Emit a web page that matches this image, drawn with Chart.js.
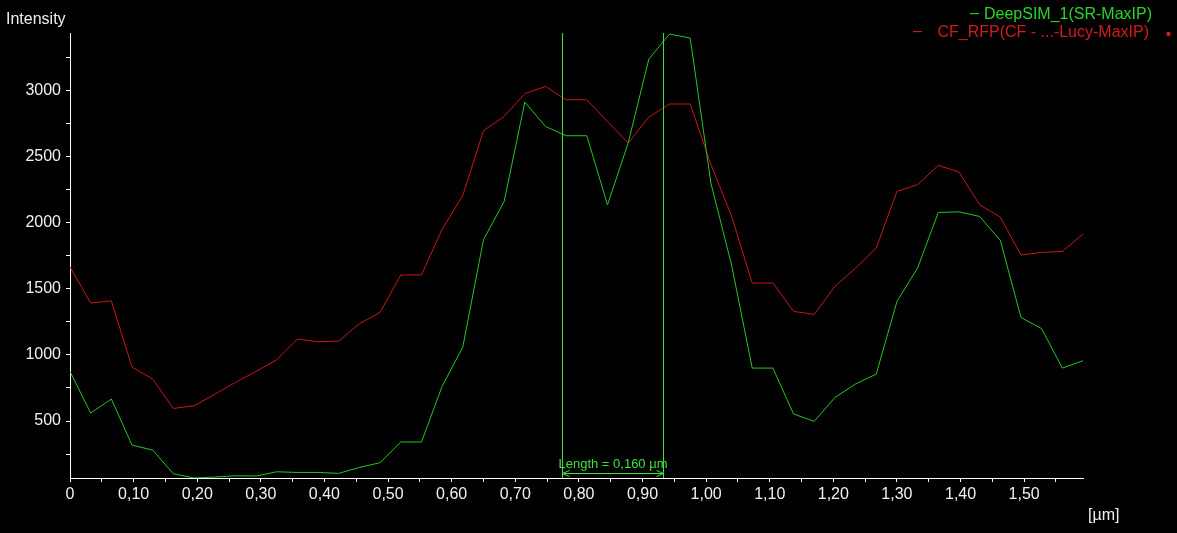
<!DOCTYPE html>
<html>
<head>
<meta charset="utf-8">
<script src="https://cdn.jsdelivr.net/npm/chart.js@4"></script>
<style>
  body { margin: 0; background: #000; }
  #wrap { width: 1177px; height: 533px; }
</style>
</head>
<body>
<div id="wrap"><canvas id="chartProfile" width="1177" height="533"></canvas></div>
<script>
// positions along the profile line (µm)
const positions = [0, 0.0325, 0.065, 0.0975, 0.13, 0.1625, 0.195, 0.2275, 0.26, 0.2925,
    0.325, 0.3575, 0.39, 0.4225, 0.455, 0.4875, 0.52, 0.5525, 0.585, 0.6175,
    0.65, 0.6825, 0.715, 0.7475, 0.78, 0.8125, 0.845, 0.8775, 0.91, 0.9425,
    0.975, 1.0075, 1.04, 1.0725, 1.105, 1.1375, 1.17, 1.2025, 1.235, 1.2675,
    1.3, 1.3325, 1.365, 1.3975, 1.43, 1.4625, 1.495, 1.5275, 1.56, 1.5925];

const deepSim = [875, 560, 666, 318, 280, 101, 69, 76, 86, 84,
    116, 111, 111, 104, 149, 185, 341, 341, 762, 1059,
    1871, 2160, 2912, 2727, 2657, 2657, 2135, 2602, 3237, 3426,
    3396, 2299, 1680, 900, 900, 553, 497, 678, 780, 855,
    1404, 1657, 2077, 2082, 2047, 1866, 1283, 1198, 900, 956];

const cfRfp = [1664, 1392, 1409, 908, 817, 595, 615, 702, 792, 875,
    963, 1120, 1099, 1105, 1236, 1321, 1604, 1604, 1950, 2206,
    2695, 2803, 2975, 3030, 2929, 2929, 2765, 2602, 2798, 2897,
    2897, 2440, 2050, 1543, 1543, 1329, 1306, 1518, 1657, 1808,
    2236, 2287, 2433, 2383, 2135, 2042, 1755, 1775, 1782, 1914];

const seriesNames = ['DeepSIM_1(SR-MaxIP)', 'CF_RFP(CF - ...-Lucy-MaxIP)'];
const markerPositions = [0.773, 0.933];
const lengthLabel = 'Length = 0,160 µm';

const FONT = '"Liberation Sans", Arial, sans-serif';
const TXT = '#f0f0f0';
const GREEN = '#22c822';
const RED = '#cc1616';
const MARK = '#3ee03e';

const toPoints = (ys) => ys.map((y, i) => ({ x: positions[i], y: y }));
const allVals = deepSim.concat(cfRfp);

const overlay = {
    id: 'overlay',
    afterDraw(chart) {
        const c = chart.ctx;
        const xs = chart.scales.x;
        const area = chart.chartArea;
        c.save();
        c.textBaseline = 'middle';

        // axis captions
        c.fillStyle = TXT;
        c.font = '16px ' + FONT;
        c.textAlign = 'left';
        c.fillText('Intensity', 6, 20);
        c.fillText('[µm]', 1088, 516);

        // legend
        c.textAlign = 'right';
        c.fillStyle = '#2bd42b';
        c.fillText(seriesNames[0], 1152, 15);
        c.fillText('\u2013', 979, 14);
        c.fillStyle = '#d41a1a';
        c.fillText(seriesNames[1], 1149, 33);
        c.fillText('\u2013', 922, 32);
        c.beginPath();
        c.arc(1168.5, 34, 2.2, 0, Math.PI * 2);
        c.fill();

        // measurement markers
        c.strokeStyle = MARK;
        c.lineWidth = 1;
        const px = markerPositions.map(v => Math.round(xs.getPixelForValue(v)) + 0.5);
        px.forEach(x => {
            c.beginPath();
            c.moveTo(x, area.top);
            c.lineTo(x, area.bottom);
            c.stroke();
        });
        const x1 = px[0], x2 = px[1];
        const ay = area.bottom - 4.5;
        c.beginPath();
        c.moveTo(x1, ay); c.lineTo(x2, ay);
        c.moveTo(x1 + 7, ay - 3); c.lineTo(x1, ay); c.lineTo(x1 + 7, ay + 3);
        c.moveTo(x2 - 7, ay - 3); c.lineTo(x2, ay); c.lineTo(x2 - 7, ay + 3);
        c.stroke();
        c.fillStyle = MARK;
        c.font = '13px ' + FONT;
        c.textAlign = 'center';
        c.fillText(lengthLabel, (x1 + x2) / 2, area.bottom - 14);
        c.restore();
    }
};

const ctxProfile = document.getElementById('chartProfile');
const chartProfile = new Chart(ctxProfile, {
    type: 'line',
    data: {
        datasets: [{
            label: seriesNames[0],
            data: toPoints(deepSim),
            borderColor: GREEN,
            borderWidth: 1,
            pointRadius: 0,
            tension: 0
        }, {
            label: seriesNames[1],
            data: toPoints(cfRfp),
            borderColor: RED,
            borderWidth: 1,
            pointRadius: 0,
            tension: 0
        }]
    },
    options: {
        responsive: false,
        animation: false,
        events: [],
        layout: { padding: { left: 0, top: 33, right: 94, bottom: 0 } },
        plugins: {
            legend: { display: false },
            tooltip: { enabled: false }
        },
        scales: {
            x: {
                type: 'linear',
                min: 0,
                max: positions[positions.length - 1],
                afterFit: (s) => { s.height = 55; },
                border: { color: '#fff', width: 1 },
                grid: { drawOnChartArea: false, color: '#fff', tickLength: 4 },
                ticks: {
                    stepSize: 0.05,
                    includeBounds: false,
                    autoSkip: false,
                    maxRotation: 0,
                    padding: 3,
                    color: TXT,
                    font: { family: FONT, size: 16 },
                    callback: (v) => {
                        const h = Math.round(v * 100);
                        if (h % 10 !== 0) return '';
                        if (h === 0) return '0';
                        return (h / 100).toFixed(2).replace('.', ',');
                    }
                }
            },
            y: {
                min: Math.min(...allVals),
                max: Math.max(...allVals) + 8,
                afterFit: (s) => { s.width = 70; },
                border: { color: '#fff', width: 1 },
                grid: { drawOnChartArea: false, color: '#fff', tickLength: 4 },
                ticks: {
                    stepSize: 250,
                    includeBounds: false,
                    autoSkip: false,
                    padding: 5,
                    color: TXT,
                    font: { family: FONT, size: 16 },
                    callback: (v) => (Math.round(v) % 500 === 0 ? String(Math.round(v)) : '')
                }
            }
        }
    },
    plugins: [overlay]
});
</script>
</body>
</html>
